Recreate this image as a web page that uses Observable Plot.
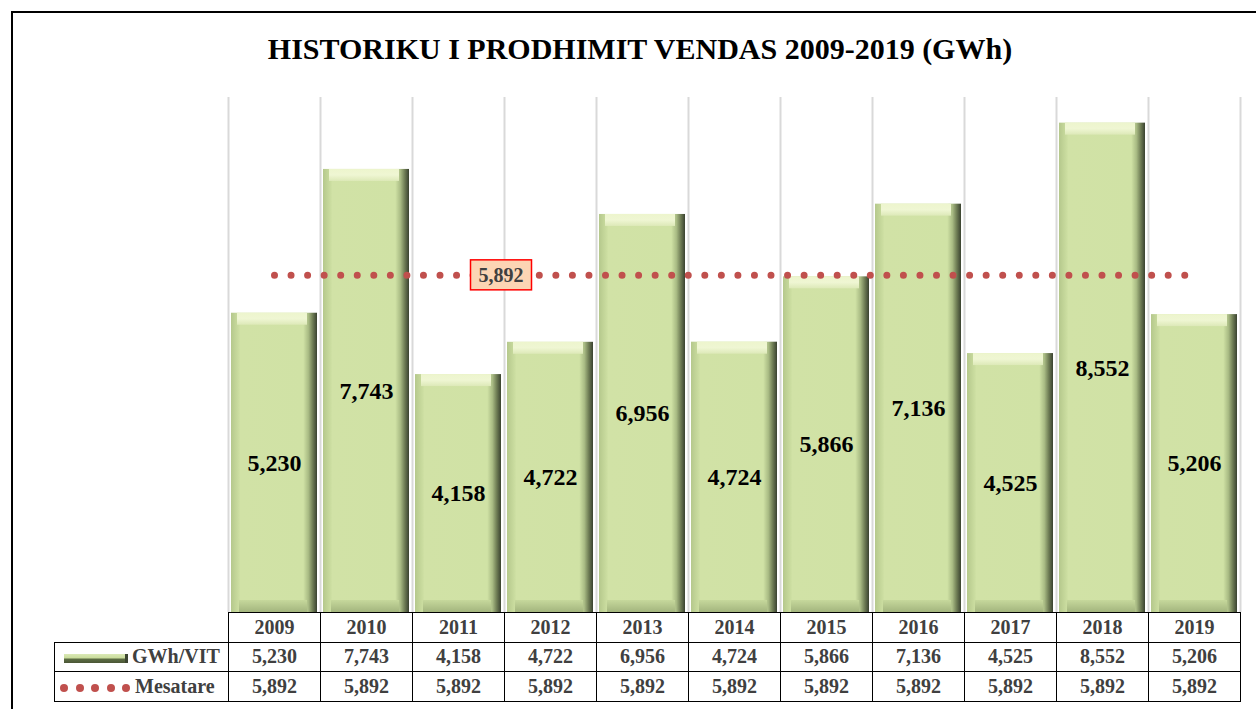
<!DOCTYPE html>
<html>
<head>
<meta charset="utf-8">
<script src="https://cdn.jsdelivr.net/npm/d3@7"></script>
<script src="https://cdn.jsdelivr.net/npm/@observablehq/plot@0.6"></script>
<style>
  html, body { margin: 0; padding: 0; background: #fff; }
  #wrap { position: relative; width: 1256px; height: 709px; overflow: hidden; font-family: "Liberation Serif", "Times New Roman", serif; }
  #frame { position: absolute; left: 11px; top: 11px; width: 1300px; height: 800px; border: 2px solid #000; box-sizing: border-box; }
  #title { position: absolute; left: 24px; width: 1232px; top: 32px; text-align: center; font-weight: bold; font-size: 30px; color: #000; }
  #chart { position: absolute; left: 0; top: 0; }
  #tbl { position: absolute; left: 54px; top: 612px; border-collapse: collapse; table-layout: fixed; font-weight: bold; font-size: 20px; color: #404040; }
  #tbl td { border: 1.5px solid #000; height: 28.5px; padding: 0; text-align: center; vertical-align: middle; }
  #tbl td.blank { border: none; }
  #tbl td.hdr { text-align: left; white-space: nowrap; }
  .icon-bar { display: inline-block; width: 64px; height: 9px; margin: 0 4px 0 9px; vertical-align: middle;
    background: linear-gradient(#dbe9b6 0%, #c9dc9c 45%, #5d6d44 55%, #4a5636 100%); border-right: 3px solid #3c4530; box-sizing: border-box; }
  .icon-dots { display: inline-block; width: 70px; height: 9px; margin: 0 5px 0 5px; vertical-align: middle; position: relative; }
  .icon-dots span { position: absolute; top: 0.5px; width: 8px; height: 8px; border-radius: 50%; background: #c0504d; }
</style>
</head>
<body>
<div id="wrap">
  <div id="frame"></div>
  <div id="chart"></div>
  <div id="title"></div>
  <table id="tbl"></table>
</div>
<script>
const title = "HISTORIKU I PRODHIMIT VENDAS 2009-2019 (GWh)";
const years = ["2009", "2010", "2011", "2012", "2013", "2014", "2015", "2016", "2017", "2018", "2019"];
const values = [5230, 7743, 4158, 4722, 6956, 4724, 5866, 7136, 4525, 8552, 5206];
const averages = [5892, 5892, 5892, 5892, 5892, 5892, 5892, 5892, 5892, 5892, 5892];
const seriesNames = ["GWh/VIT", "Mesatare"];
const averageLabel = 5892;

const fmt = d3.format(",");
const data = years.map((y, i) => ({year: y, value: values[i], avg: averages[i]}));

const W = 1256, H = 612, ML = 228, MR = 16, MT = 97;
const bw = (W - ML - MR) / years.length;

document.getElementById("title").textContent = title;

const chart = Plot.plot({
  width: W, height: H,
  marginTop: MT, marginBottom: 0, marginLeft: ML, marginRight: MR,
  x: {domain: years, padding: 0, axis: null},
  y: {domain: [0, 9000], axis: null},
  style: {fontFamily: "'Liberation Serif', 'Times New Roman', serif", background: "transparent"},
  marks: [
    Plot.ruleX(data, {x: "year", dx: -bw / 2, y1: 0, y2: 9000, stroke: "#d9d9d9", strokeWidth: 2}),
    Plot.ruleX(data.slice(-1), {x: "year", dx: bw / 2, y1: 0, y2: 9000, stroke: "#d9d9d9", strokeWidth: 2}),
    Plot.barY(data, {x: "year", y: "value", fill: "url(#barH)", insetLeft: 3, insetRight: 3}),
    Plot.rectY(data, {x: "year", y1: "value", y2: "value", insetBottom: -12, insetLeft: 9, insetRight: 13, fill: "url(#barTop)"}),
    Plot.rectY(data, {x: "year", y1: 0, y2: 0, insetTop: -12, insetLeft: 11, insetRight: 13, fill: "url(#barBot)"}),
    Plot.lineY(data, {x: "year", y: "avg", stroke: "#c0504d", strokeWidth: 7, strokeDasharray: "0 16.55", strokeLinecap: "round"}),
    Plot.text(data, {x: "year", y: d => d.value / 2, text: d => fmt(d.value), fontSize: 24, fontWeight: "bold", fill: "#000"})
  ]
});

const svg = d3.select(chart);
const defs = svg.insert("defs", ":first-child");
function grad(id, horizontal, stops) {
  const g = defs.append("linearGradient").attr("id", id)
    .attr("x1", 0).attr("y1", 0).attr("x2", horizontal ? 1 : 0).attr("y2", horizontal ? 0 : 1);
  for (const [o, c] of stops) g.append("stop").attr("offset", o).attr("stop-color", c);
}
grad("barH", true, [[0, "#b5c88c"], [0.09, "#cbdda0"], [0.11, "#d1e2a6"], [0.84, "#d0e2a5"], [0.9, "#a9bb84"], [0.95, "#6f7d55"], [1, "#3a4230"]]);
grad("barTop", false, [[0, "#edf5cd"], [0.5, "#eff6d3"], [1, "#dde9b8"]]);
grad("barBot", false, [[0, "#c6d89c"], [1, "#a3b57e"]]);

// average label box
const xs = chart.scale("x"), ys = chart.scale("y");
const cx = xs.apply("2012") - 3;
const cy = ys.apply(averageLabel);
const box = svg.append("g");
box.append("rect").attr("x", cx - 30.5).attr("y", cy - 15).attr("width", 61).attr("height", 30)
  .attr("fill", "#fcd5b4").attr("stroke", "#ff0000").attr("stroke-width", 1.5);
box.append("text").attr("x", cx).attr("y", cy).attr("dy", "0.35em").attr("text-anchor", "middle")
  .attr("font-size", 20).attr("font-weight", "bold").attr("fill", "#404040").text(fmt(averageLabel));

document.getElementById("chart").appendChild(chart);

// data table
const tbl = d3.select("#tbl");
const cg = tbl.append("colgroup");
cg.append("col").style("width", (ML - 54) + "px");
years.forEach(() => cg.append("col").style("width", bw + "px"));
const r0 = tbl.append("tr");
r0.append("td").attr("class", "blank");
years.forEach(y => r0.append("td").text(y));
const r1 = tbl.append("tr");
const h1 = r1.append("td").attr("class", "hdr");
h1.append("span").attr("class", "icon-bar");
h1.append("span").text(seriesNames[0]);
values.forEach(v => r1.append("td").text(fmt(v)));
const r2 = tbl.append("tr");
const h2 = r2.append("td").attr("class", "hdr");
const dots = h2.append("span").attr("class", "icon-dots");
[0, 1, 2, 3, 4].forEach(i => dots.append("span").style("left", (i * 15.5) + "px"));
h2.append("span").text(seriesNames[1]);
averages.forEach(v => r2.append("td").text(fmt(v)));
</script>
</body>
</html>
